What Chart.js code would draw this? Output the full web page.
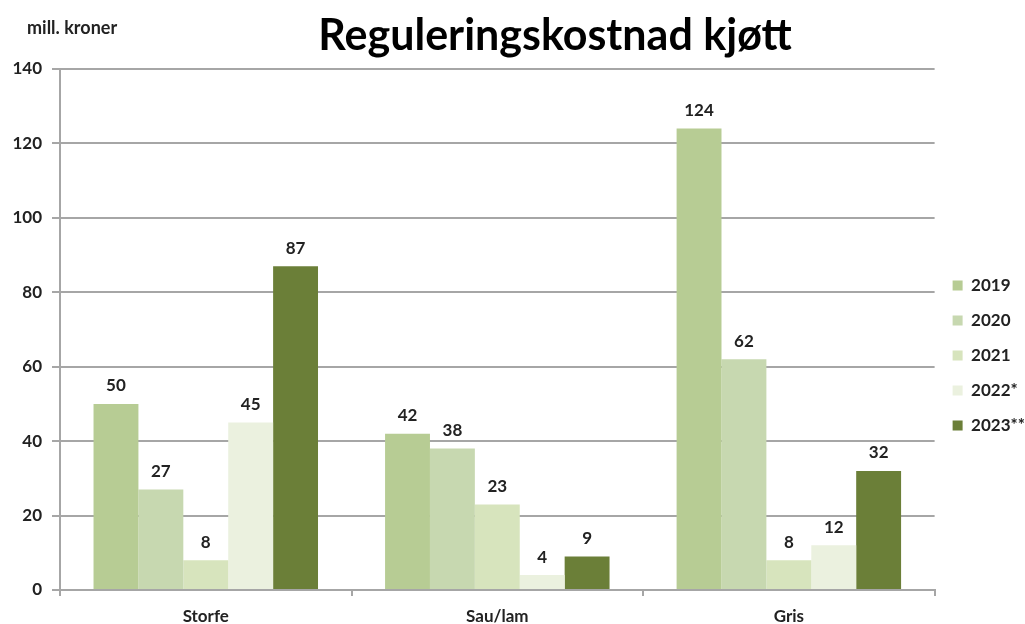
<!DOCTYPE html>
<html>
<head>
<meta charset="utf-8">
<script src="https://cdn.jsdelivr.net/npm/chart.js@4/dist/chart.umd.min.js"></script>
<style>
  body { margin: 0; background: #fff; }
  #wrap { position: relative; width: 1025px; height: 624px; font-family: Lato, "Open Sans", sans-serif; }
  #chart { position: absolute; left: 0; top: 0; }
  #title { position: absolute; left: 555px; top: 8px; transform: translateX(-50%); white-space: nowrap;
           font-size: 43px; font-weight: bold; color: #000; }
  #unit { position: absolute; left: 27px; top: 16px; font-size: 18px; font-weight: bold; color: #222; }
</style>
</head>
<body>
<div id="wrap">
  <canvas id="chart" width="1025" height="624"></canvas>
  <div id="title">Reguleringskostnad kjøtt</div>
  <div id="unit">mill. kroner</div>
</div>
<script>
const categories = ['Storfe', 'Sau/lam', 'Gris'];
const seriesNames = ['2019', '2020', '2021', '2022*', '2023**'];
const values2019 = [50, 42, 124];
const values2020 = [27, 38, 62];
const values2021 = [8, 23, 8];
const values2022 = [45, 4, 12];
const values2023 = [87, 9, 32];
const seriesColors = ['#b7cc94', '#c7d8b0', '#d7e4bd', '#ebf1df', '#6b7f38'];

const allValues = [values2019, values2020, values2021, values2022, values2023];
const fontFamily = 'Lato, "Open Sans", sans-serif';
const gridColor = '#a6a6a6';
const labelFont = { family: fontFamily, size: 17, weight: 'bold' };

const barLabels = {
  id: 'barLabels',
  afterDatasetsDraw(chart) {
    const ctx = chart.ctx;
    ctx.save();
    ctx.font = 'bold 17px ' + fontFamily;
    ctx.fillStyle = '#222';
    ctx.textAlign = 'center';
    ctx.textBaseline = 'middle';
    chart.data.datasets.forEach((ds, i) => {
      const meta = chart.getDatasetMeta(i);
      meta.data.forEach((bar, j) => {
        ctx.fillText(ds.data[j], bar.x, bar.y - 18);
      });
    });
    ctx.restore();
  }
};

new Chart(document.getElementById('chart'), {
  type: 'bar',
  data: {
    labels: categories,
    datasets: seriesNames.map((name, i) => ({
      label: name,
      data: allValues[i],
      backgroundColor: seriesColors[i],
      borderWidth: 0,
      categoryPercentage: 0.77,
      barPercentage: 1.0,
    })),
  },
  options: {
    responsive: false,
    animation: false,
    layout: { padding: { top: 69, left: 12, right: -10, bottom: 0 } },
    plugins: {
      legend: {
        position: 'right',
        title: { display: true, text: '', padding: 3, font: { size: 10 } },
        labels: {
          boxWidth: 10,
          boxHeight: 10,
          padding: 18,
          color: '#222',
          font: labelFont,
        },
      },
      tooltip: { enabled: false },
      title: { display: false },
    },
    scales: {
      x: {
        afterFit(axis) { axis.height = 34; },
        grid: { display: true, drawOnChartArea: false, color: gridColor, lineWidth: 2, tickLength: 6, offset: true },
        border: { color: gridColor, width: 2 },
        ticks: { color: '#222', padding: 10, font: labelFont },
      },
      y: {
        min: 0,
        max: 140,
        afterFit(axis) { axis.width = 48; },
        grid: { color: gridColor, lineWidth: 2, tickLength: 8 },
        border: { color: gridColor, width: 2 },
        ticks: { stepSize: 20, color: '#222', padding: 10, font: labelFont },
      },
    },
  },
  plugins: [barLabels],
});
</script>
</body>
</html>
